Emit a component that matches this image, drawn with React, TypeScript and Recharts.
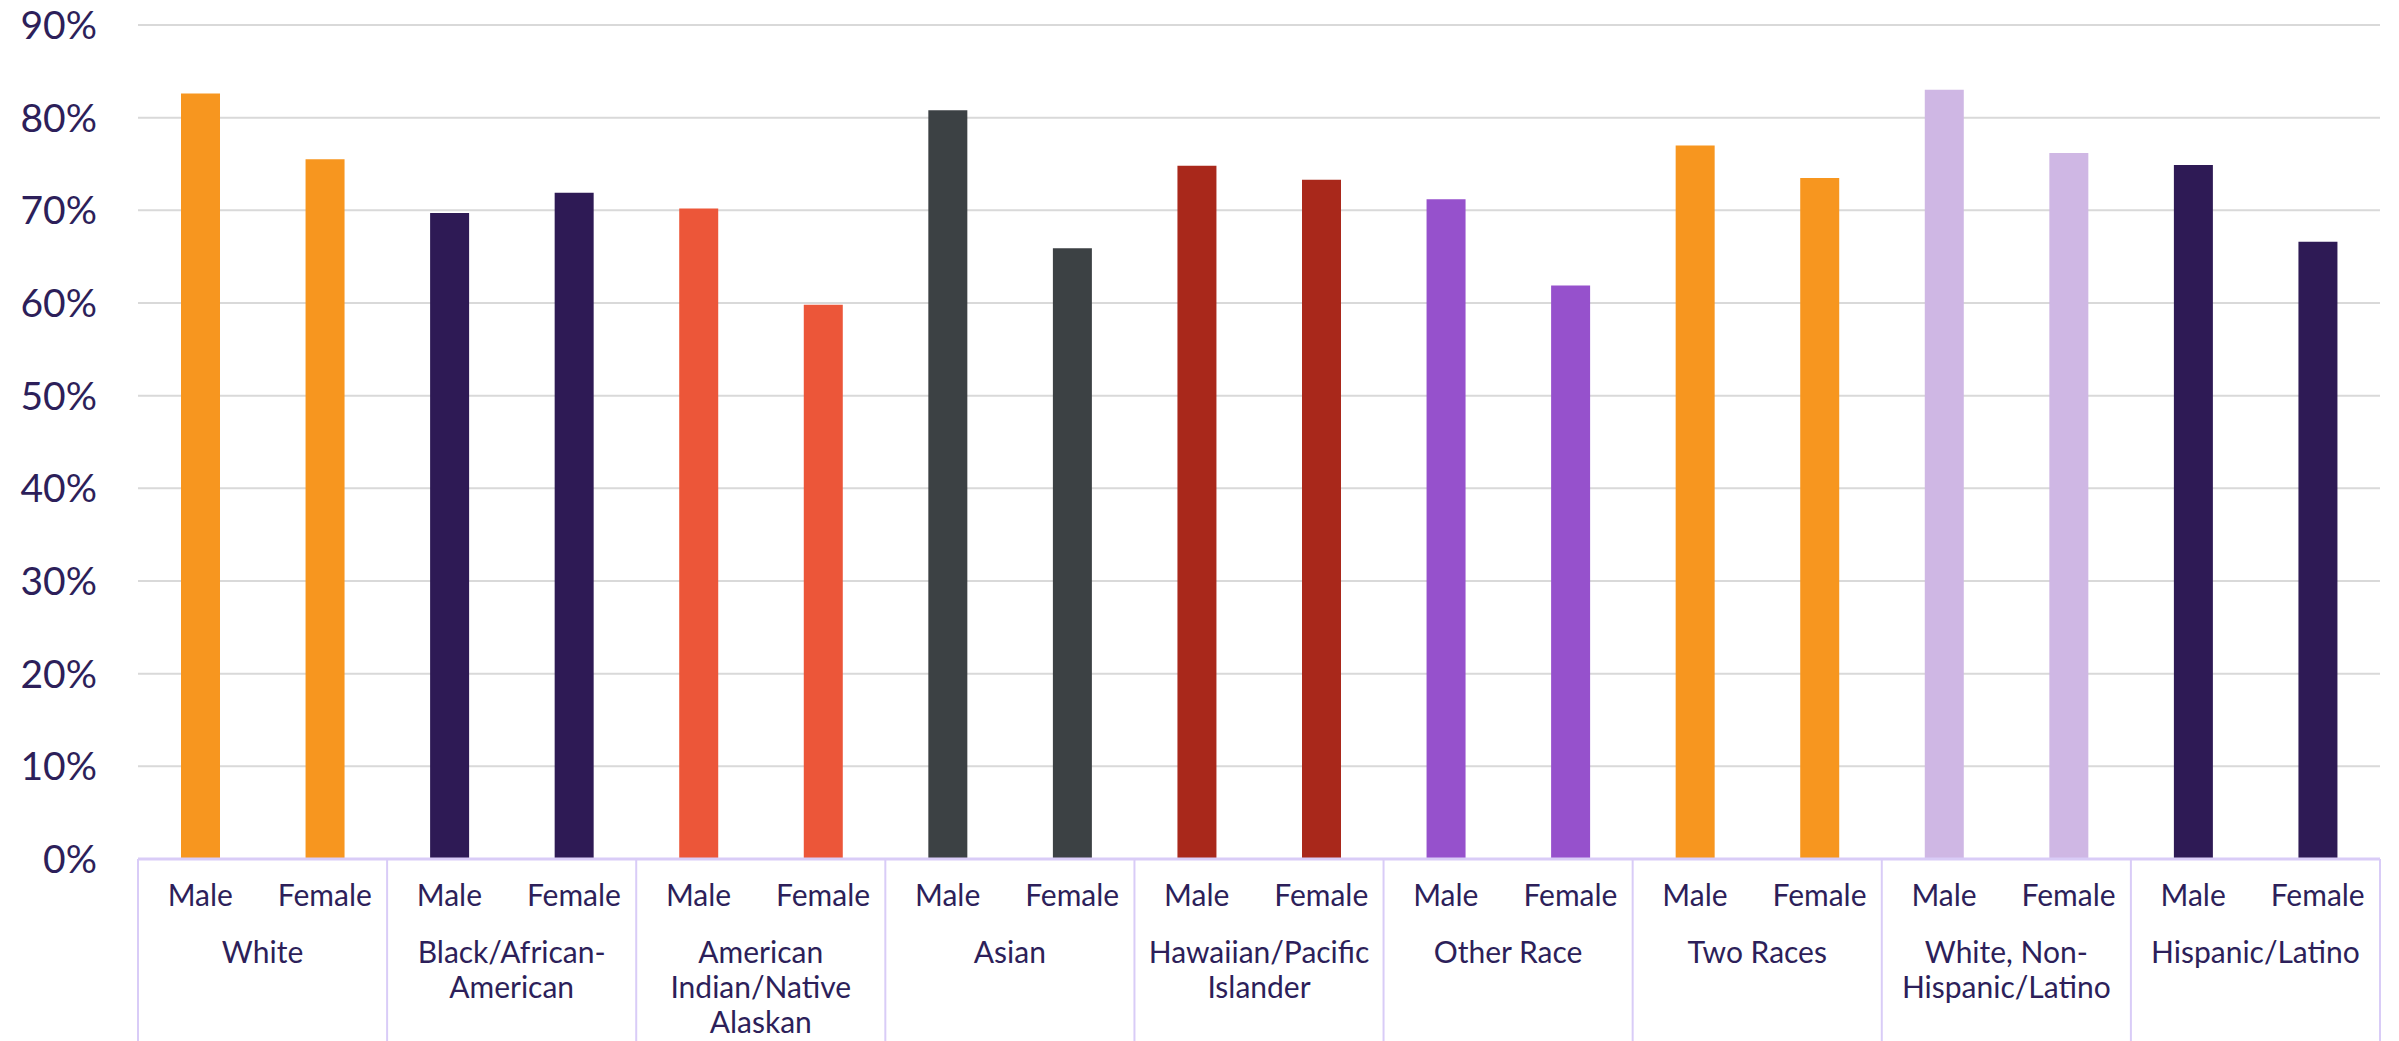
import React from 'react';
import { BarChart, Bar, XAxis, YAxis, CartesianGrid, Cell } from 'recharts';

// Race / ethnicity groups and their (possibly multi-line) axis labels
const groups = [
  'White',
  'Black/African-American',
  'American Indian/Native Alaskan',
  'Asian',
  'Hawaiian/Pacific Islander',
  'Other Race',
  'Two Races',
  'White, Non-Hispanic/Latino',
  'Hispanic/Latino',
];
const groupLabelLines = [
  ['White'],
  ['Black/African-', 'American'],
  ['American', 'Indian/Native', 'Alaskan'],
  ['Asian'],
  ['Hawaiian/Pacific', 'Islander'],
  ['Other Race'],
  ['Two Races'],
  ['White, Non-', 'Hispanic/Latino'],
  ['Hispanic/Latino'],
];
const sexes = ['Male', 'Female'];

// Percentages per group
const maleValues = [82.6, 69.7, 70.2, 80.8, 74.8, 71.2, 77.0, 83.0, 74.9];
const femaleValues = [75.5, 71.9, 59.8, 65.9, 73.3, 61.9, 73.5, 76.2, 66.6];

const groupColors = [
  '#F7961F',
  '#2E1A55',
  '#EC5639',
  '#3C4144',
  '#A9281B',
  '#9651CC',
  '#F7961F',
  '#CFB7E4',
  '#2E1A55',
];

const yTicks = [0, 10, 20, 30, 40, 50, 60, 70, 80, 90];

const data = groups.flatMap((g, i) => [
  { id: `${i}-m`, sex: sexes[0], group: i, value: maleValues[i] },
  { id: `${i}-f`, sex: sexes[1], group: i, value: femaleValues[i] },
]);

// Layout
const W = 2399;
const H = 1041;
const MARGIN = { top: 25, right: 19, left: 0, bottom: 0 };
const Y_AXIS_W = 138;
const X_AXIS_H = 182;
const PLOT_W = W - MARGIN.left - MARGIN.right - Y_AXIS_W;
const AXIS_Y = H - MARGIN.bottom - X_AXIS_H;
const BAND = PLOT_W / data.length;

const TEXT = '#2D1F5A';
const FRAME = '#D9CCF7';
const FONT = 'Lato, "Noto Sans", sans-serif';

const CategoryTick = (props: any) => {
  const { x, index } = props;
  const row = data[index];
  if (!row) return null;
  const last = index === data.length - 1;
  return (
    <g>
      <text
        x={x}
        y={AXIS_Y + 47}
        textAnchor="middle"
        fontFamily={FONT}
        fontSize={30}
        fill={TEXT}
      >
        {row.sex}
      </text>
      {index % 2 === 0 && (
        <line x1={x - BAND / 2} x2={x - BAND / 2} y1={AXIS_Y} y2={H} stroke={FRAME} strokeWidth={2} />
      )}
      {last && (
        <line x1={x + BAND / 2} x2={x + BAND / 2} y1={AXIS_Y} y2={H} stroke={FRAME} strokeWidth={2} />
      )}
      {index % 2 === 1 &&
        groupLabelLines[row.group].map((ln, k) => (
          <text
            key={k}
            x={x - BAND / 2}
            y={AXIS_Y + 104 + k * 35}
            textAnchor="middle"
            fontFamily={FONT}
            fontSize={30}
            fill={TEXT}
          >
            {ln}
          </text>
        ))}
    </g>
  );
};

export default function App() {
  return (
    <div style={{ position: 'absolute', left: 0, top: 0, background: '#fff' }}>
      <BarChart width={W} height={H} data={data} margin={MARGIN} barSize={39}>
        <CartesianGrid vertical={false} stroke="#D9D9D9" strokeWidth={2} />
        <YAxis
          width={Y_AXIS_W}
          domain={[0, 90]}
          ticks={yTicks}
          tickFormatter={(v: number) => `${v}%`}
          axisLine={false}
          tickLine={false}
          tickSize={0}
          tickMargin={41}
          tick={{ fontFamily: FONT, fontSize: 39, fill: TEXT }}
          interval={0}
        />
        <XAxis
          dataKey="id"
          height={X_AXIS_H}
          interval={0}
          tickLine={false}
          axisLine={{ stroke: FRAME, strokeWidth: 3 }}
          tick={<CategoryTick />}
        />
        <Bar dataKey="value" isAnimationActive={false}>
          {data.map((d) => (
            <Cell key={d.id} fill={groupColors[d.group]} />
          ))}
        </Bar>
      </BarChart>
    </div>
  );
}
